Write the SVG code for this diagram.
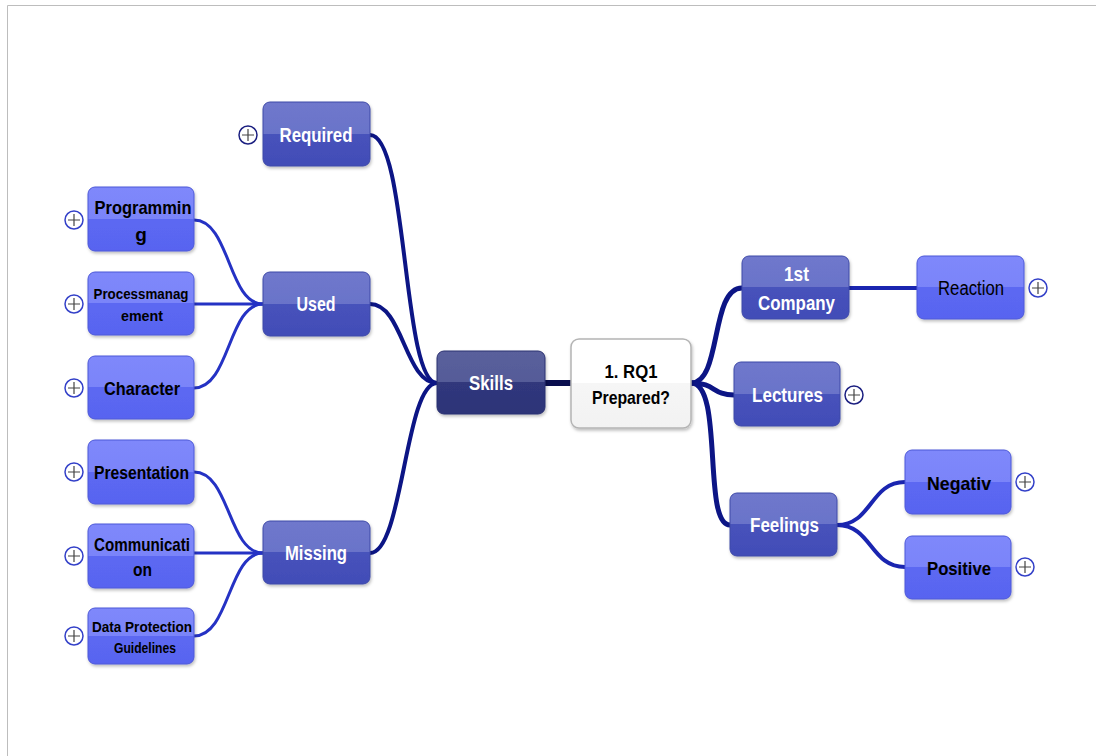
<svg xmlns="http://www.w3.org/2000/svg" width="1096" height="756" viewBox="0 0 1096 756">
  <defs>
    <linearGradient id="gMid" x1="0" y1="0" x2="0" y2="1">
      <stop offset="0" stop-color="#6f78cc"/>
      <stop offset="0.5" stop-color="#6a73c9"/>
      <stop offset="0.5" stop-color="#4752bb"/>
      <stop offset="1" stop-color="#424db7"/>
    </linearGradient>
    <linearGradient id="gLeaf" x1="0" y1="0" x2="0" y2="1">
      <stop offset="0" stop-color="#7f88fb"/>
      <stop offset="0.5" stop-color="#7a84f9"/>
      <stop offset="0.5" stop-color="#5c68f2"/>
      <stop offset="1" stop-color="#5864f0"/>
    </linearGradient>
    <linearGradient id="gSkills" x1="0" y1="0" x2="0" y2="1">
      <stop offset="0" stop-color="#5a609c"/>
      <stop offset="0.5" stop-color="#555b98"/>
      <stop offset="0.5" stop-color="#30377c"/>
      <stop offset="1" stop-color="#2d3478"/>
    </linearGradient>
    <linearGradient id="gCenter" x1="0" y1="0" x2="0" y2="1">
      <stop offset="0" stop-color="#ffffff"/>
      <stop offset="0.5" stop-color="#ffffff"/>
      <stop offset="0.5" stop-color="#f6f6f6"/>
      <stop offset="1" stop-color="#f2f2f2"/>
    </linearGradient>
    <filter id="shadow" x="-10%" y="-10%" width="130%" height="140%">
      <feDropShadow dx="1" dy="2" stdDeviation="1.5" flood-color="#000" flood-opacity="0.25"/>
    </filter>
  </defs>
  <style>
    .mid { fill: url(#gMid); stroke: #3f4aa8; stroke-width: 1; filter: url(#shadow); }
    .leaf { fill: url(#gLeaf); stroke: #4c58d8; stroke-width: 1; filter: url(#shadow); }
    .skills { fill: url(#gSkills); stroke: #2a3070; stroke-width: 1; filter: url(#shadow); }
    .center { fill: url(#gCenter); stroke: #b4b4b4; stroke-width: 1.5; filter: url(#shadow); }
    text { font-family: "Liberation Sans", Arial, sans-serif; font-weight: bold; text-anchor: middle; dominant-baseline: central; }
    .w { fill: #ffffff; font-size: 20px; }
    .b { fill: #000000; font-size: 19px; }
    .s { fill: #000000; font-size: 15px; }
    .n { fill: #000000; font-size: 20px; font-weight: normal; }
    .lnk0 { fill: none; stroke: #0a0e4e; stroke-width: 6; }
    .lnk1 { fill: none; stroke: #0c1585; stroke-width: 4; }
    .lnk2 { fill: none; stroke: #2532c4; stroke-width: 3; }
    .lnk3 { fill: none; stroke: #1a25b0; stroke-width: 4; }
    .pc { fill: #ffffff; stroke: #3340c8; stroke-width: 1.5; }
    .pcd { fill: #ffffff; stroke: #1b1f80; stroke-width: 1.5; }
    .pl { stroke: #444; stroke-width: 1.2; }
  </style>

  <!-- frame -->
  <path d="M7.5,756 V5.5 H1096" fill="none" stroke="#bdbdbd" stroke-width="1"/>

  <!-- connectors -->
  <g id="connectors">
    <path class="lnk0" d="M545,383 H571"/>
    <path class="lnk1" d="M437,383 C402,383 408,135 370,135"/>
    <path class="lnk1" d="M437,383 C405,383 403,304 370,304"/>
    <path class="lnk1" d="M437,383 C405,383 403,553 370,553"/>
    <path class="lnk2" d="M263,304 C228,304 230,220 194,220"/>
    <path class="lnk2" d="M263,304 H194"/>
    <path class="lnk2" d="M263,304 C228,304 230,388 194,388"/>
    <path class="lnk2" d="M263,553 C228,553 230,472 194,472"/>
    <path class="lnk2" d="M263,553 H194"/>
    <path class="lnk2" d="M263,553 C228,553 230,636 194,636"/>
    <path class="lnk1" d="M691,383 C722,383 710,288 742,288" style="stroke-width:5"/>
    <path class="lnk1" d="M691,383 C716,383 712,395 734,395" style="stroke-width:5"/>
    <path class="lnk1" d="M691,383 C724,383 702,525 730,525" style="stroke-width:5"/>
    <path class="lnk3" d="M849,288 H917"/>
    <path class="lnk3" d="M837,525 C872,525 870,482 905,482"/>
    <path class="lnk3" d="M837,525 C872,525 870,567 905,567"/>
  </g>

  <!-- central topic -->
  <g id="node-rq1">
    <rect class="center" x="571" y="339" width="120" height="89" rx="8"/>
    <text class="b" x="631" y="371" font-size="20" textLength="53" lengthAdjust="spacingAndGlyphs">1. RQ1</text>
    <text class="b" x="631" y="397" font-size="20" textLength="78" lengthAdjust="spacingAndGlyphs">Prepared?</text>
  </g>

  <g id="node-skills">
    <rect class="skills" x="437" y="351" width="108" height="63" rx="7"/>
    <text class="w" x="491" y="383" textLength="44" lengthAdjust="spacingAndGlyphs">Skills</text>
  </g>

  <g id="node-required">
    <rect class="mid" x="263" y="102" width="107" height="64" rx="7"/>
    <text class="w" x="316" y="135" textLength="73" lengthAdjust="spacingAndGlyphs">Required</text>
    <circle class="pcd" cx="248" cy="135" r="9"/>
    <path class="pl" d="M242,135 H254 M248,129 V141"/>
  </g>

  <g id="node-used">
    <rect class="mid" x="263" y="272" width="107" height="64" rx="7"/>
    <text class="w" x="316" y="304" textLength="39" lengthAdjust="spacingAndGlyphs">Used</text>
  </g>

  <g id="node-missing">
    <rect class="mid" x="263" y="521" width="107" height="63" rx="7"/>
    <text class="w" x="316" y="553" textLength="62" lengthAdjust="spacingAndGlyphs">Missing</text>
  </g>

  <g id="node-programming">
    <rect class="leaf" x="88" y="187" width="106" height="64" rx="7"/>
    <text class="b" x="143" y="207" textLength="97" lengthAdjust="spacingAndGlyphs">Programmin</text>
    <text class="b" x="141" y="234">g</text>
    <circle class="pc" cx="74" cy="220" r="9"/>
    <path class="pl" d="M68,220 H80 M74,214 V226"/>
  </g>

  <g id="node-processmanagement">
    <rect class="leaf" x="88" y="272" width="106" height="63" rx="7"/>
    <text class="s" x="141" y="293" textLength="95" lengthAdjust="spacingAndGlyphs">Processmanag</text>
    <text class="s" x="142" y="315" textLength="42" lengthAdjust="spacingAndGlyphs">ement</text>
    <circle class="pc" cx="74" cy="304" r="9"/>
    <path class="pl" d="M68,304 H80 M74,298 V310"/>
  </g>

  <g id="node-character">
    <rect class="leaf" x="88" y="356" width="106" height="63" rx="7"/>
    <text class="b" x="142" y="388" textLength="76" lengthAdjust="spacingAndGlyphs">Character</text>
    <circle class="pc" cx="74" cy="388" r="9"/>
    <path class="pl" d="M68,388 H80 M74,382 V394"/>
  </g>

  <g id="node-presentation">
    <rect class="leaf" x="88" y="440" width="106" height="64" rx="7"/>
    <text class="b" x="141.5" y="472" textLength="95" lengthAdjust="spacingAndGlyphs">Presentation</text>
    <circle class="pc" cx="74" cy="472" r="9"/>
    <path class="pl" d="M68,472 H80 M74,466 V478"/>
  </g>

  <g id="node-communication">
    <rect class="leaf" x="88" y="524" width="106" height="64" rx="7"/>
    <text class="b" x="142" y="544" textLength="96" lengthAdjust="spacingAndGlyphs">Communicati</text>
    <text class="b" x="142.5" y="569" textLength="19" lengthAdjust="spacingAndGlyphs">on</text>
    <circle class="pc" cx="74" cy="556" r="9"/>
    <path class="pl" d="M68,556 H80 M74,550 V562"/>
  </g>

  <g id="node-dataprotection">
    <rect class="leaf" x="88" y="608" width="106" height="56" rx="7"/>
    <text class="s" x="142" y="626" textLength="100" lengthAdjust="spacingAndGlyphs">Data Protection</text>
    <text class="s" x="145" y="647" textLength="62" lengthAdjust="spacingAndGlyphs">Guidelines</text>
    <circle class="pc" cx="74" cy="636" r="9"/>
    <path class="pl" d="M68,636 H80 M74,630 V642"/>
  </g>

  <g id="node-1stcompany">
    <rect class="mid" x="742" y="256" width="107" height="63" rx="7"/>
    <text class="w" x="796.5" y="274" textLength="25" lengthAdjust="spacingAndGlyphs">1st</text>
    <text class="w" x="796.5" y="303" textLength="77" lengthAdjust="spacingAndGlyphs">Company</text>
  </g>

  <g id="node-reaction">
    <rect class="leaf" x="917" y="256" width="107" height="63" rx="7"/>
    <text class="n" x="971" y="288" textLength="66" lengthAdjust="spacingAndGlyphs">Reaction</text>
    <circle class="pc" cx="1038" cy="288" r="9"/>
    <path class="pl" d="M1032,288 H1044 M1038,282 V294"/>
  </g>

  <g id="node-lectures">
    <rect class="mid" x="734" y="362" width="106" height="64" rx="7"/>
    <text class="w" x="787.5" y="395" textLength="71" lengthAdjust="spacingAndGlyphs">Lectures</text>
    <circle class="pc" cx="854" cy="395" r="9" style="stroke:#1b1f80"/>
    <path class="pl" d="M848,395 H860 M854,389 V401"/>
  </g>

  <g id="node-feelings">
    <rect class="mid" x="730" y="493" width="107" height="63" rx="7"/>
    <text class="w" x="784.5" y="525" textLength="69" lengthAdjust="spacingAndGlyphs">Feelings</text>
  </g>

  <g id="node-negativ">
    <rect class="leaf" x="905" y="450" width="106" height="64" rx="7"/>
    <text class="b" x="959" y="483" font-size="20" textLength="64" lengthAdjust="spacingAndGlyphs">Negativ</text>
    <circle class="pc" cx="1025" cy="482" r="9"/>
    <path class="pl" d="M1019,482 H1031 M1025,476 V488"/>
  </g>

  <g id="node-positive">
    <rect class="leaf" x="905" y="536" width="106" height="63" rx="7"/>
    <text class="b" x="959" y="568" font-size="20" textLength="64" lengthAdjust="spacingAndGlyphs">Positive</text>
    <circle class="pc" cx="1025" cy="567" r="9"/>
    <path class="pl" d="M1019,567 H1031 M1025,561 V573"/>
  </g>
</svg>
